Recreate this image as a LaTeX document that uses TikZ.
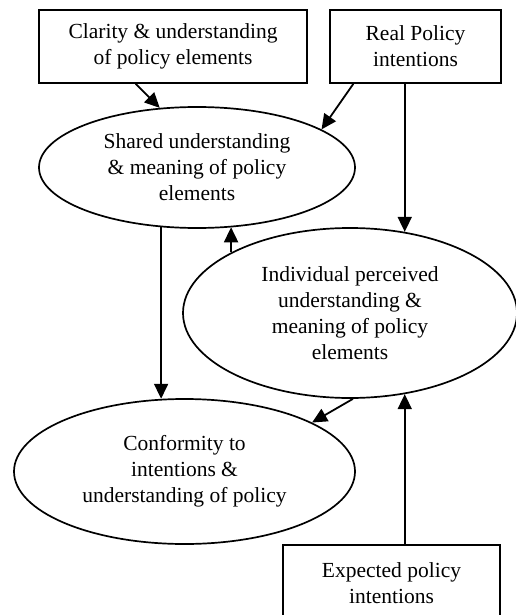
\documentclass[tikz,border=0pt]{standalone}
\usepackage{fontspec}
\setmainfont{Liberation Serif}
\usetikzlibrary{arrows.meta,shapes.geometric}
\tikzset{
  txt/.style={font=\fontsize{21.5}{26}\selectfont, align=center, line width=1.7pt, draw=black, inner sep=0pt},
  boxnode/.style={txt, rectangle},
  ovalnode/.style={txt, ellipse},
  arr/.style={line width=1.8pt, -{Triangle[length=15pt,width=14pt]}}
}
\begin{document}
\begin{tikzpicture}[x=1pt,y=-1pt]
\useasboundingbox (0,0) rectangle (516,615);
\clip (0,0) rectangle (516,615);
\node[boxnode, minimum width=268pt, minimum height=73pt] (clar) at (173,46.5) {Clarity \& understanding\\of policy elements};
\node[boxnode, minimum width=171pt, minimum height=73pt] (rp) at (415.5,46.5) {Real Policy\\intentions};
\node[ovalnode, minimum width=316pt, minimum height=121pt] (e1) at (197,167.5) {Shared understanding\\\& meaning of policy\\elements};
\node[ovalnode, minimum width=334pt, minimum height=170pt] (e2) at (350,313) {Individual perceived\\understanding \&\\meaning of policy\\elements};
\node[ovalnode, minimum width=341pt, minimum height=145pt] (e3) at (184.5,471.5) {Conformity to\\intentions \&\\understanding of policy};
\node[boxnode, minimum width=217pt, minimum height=76pt] (exp) at (391.5,583) {Expected policy\\intentions};
\draw[arr] (clar.225) -- (e1.122);
\draw[arr] (rp.211) -- (e1.17);
\draw[arr] (rp.south -| e2.56) -- (e2.56);
\draw[arr] (e2.153) -- (e2.153 |- e1.301);
\draw[arr] (e1.239) -- (e1.239 |- e3.107);
\draw[arr] (e2.272) -- (e3.21);
\draw[arr] (exp.north -| e2.304) -- (e2.304);
\end{tikzpicture}
\end{document}
